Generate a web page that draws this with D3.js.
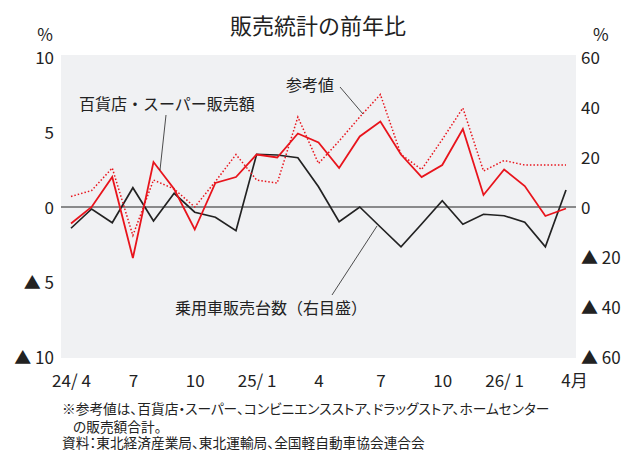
<!DOCTYPE html>
<html>
<head>
<meta charset="utf-8">
<script src="https://cdn.jsdelivr.net/npm/d3@7"></script>
<style>
  body { margin: 0; background: #fff; }
  text { font-family: "Noto Sans CJK JP", "Noto Sans", sans-serif; fill: #222; }
  .foot { font-feature-settings: "palt"; }
</style>
</head>
<body>
<div id="chart"></div>
<script>
// data: 2024/4 - 2026/4, monthly, YoY %
var months = ["24/4","24/5","24/6","24/7","24/8","24/9","24/10","24/11","24/12",
              "25/1","25/2","25/3","25/4","25/5","25/6","25/7","25/8","25/9","25/10","25/11","25/12",
              "26/1","26/2","26/3","26/4"];
var tickMonths = ["24/4","24/7","24/10","25/1","25/4","25/7","25/10","26/1","26/4"];
var tickText = ["24/ 4","7","10","25/ 1","4","7","10","26/ 1","4月"];
var dept = [-1.1, 0.0, 2.0, -3.4, 3.0, 1.2, -1.5, 1.6, 2.0, 3.5, 3.3, 4.9, 4.3,
            2.6, 4.7, 5.7, 3.5, 2.0, 2.8, 5.2, 0.8, 2.5, 1.4, -0.6, -0.1];
var ref = [0.7, 1.1, 2.6, -1.9, 1.8, 1.2, 0.0, 1.7, 3.5, 1.8, 1.6, 6.0, 2.9,
           4.4, 6.0, 7.5, 3.5, 2.5, 4.5, 6.6, 2.4, 3.1, 2.8, 2.8, 2.8];
var cars = [-8.5, -0.8, -6.3, 7.7, -5.6, 5.5, -2.1, -4.1, -9.5, 21.1, 20.8, 19.7, 8.1,
            -5.9, 0.0, -8.0, -15.9, -6.8, 2.5, -6.9, -2.9, -3.5, -6.1, -15.9, 6.8];
var leftTicks = [10, 5, 0, -5, -10];
var rightTicks = [60, 40, 20, 0, -20, -40, -60];

var w = 628, h = 450;
var red = "#e8141c";

var svg = d3.select("#chart").append("svg")
  .attr("width", w)
  .attr("height", h);

var x = d3.scalePoint().domain(months).range([71, 566]);
var yL = d3.scaleLinear().domain([-10, 10]).range([357, 57]);
var yR = d3.scaleLinear().domain([-60, 60]).range([357, 57]);

function fmt(v) { return v < 0 ? "▲ " + (-v) : "" + v; }

// plot background
svg.append("rect")
  .attr("x", 61).attr("y", 55)
  .attr("width", 515).attr("height", 303)
  .attr("fill", "#f0f1f3");

// title
svg.append("text")
  .attr("x", 318).attr("y", 34)
  .attr("text-anchor", "middle")
  .style("font-size", "22px")
  .text("販売統計の前年比");

svg.append("text").attr("x", 53).attr("y", 41)
  .attr("text-anchor", "end").style("font-size", "17px").text("%");
svg.append("text").attr("x", 593).attr("y", 41)
  .style("font-size", "17px").text("%");

// left axis
var gl = svg.append("g")
  .attr("transform", "translate(54,1)")
  .call(d3.axisLeft(yL).tickValues(leftTicks).tickSize(0).tickPadding(0).tickFormat(fmt));
gl.select(".domain").remove();
gl.selectAll("text").style("font-size", "17px").attr("fill", "#222");

// right axis
var gr = svg.append("g")
  .attr("transform", "translate(581,1)")
  .call(d3.axisRight(yR).tickValues(rightTicks).tickSize(0).tickPadding(0).tickFormat(fmt));
gr.select(".domain").remove();
gr.selectAll("text").style("font-size", "17px").attr("fill", "#222");

// x axis
var gx = svg.append("g")
  .attr("transform", "translate(0,375)")
  .call(d3.axisBottom(x).tickValues(tickMonths).tickSize(0).tickPadding(0)
    .tickFormat(function(d) { return tickText[tickMonths.indexOf(d)]; }));
gx.select(".domain").remove();
gx.selectAll("text").style("font-size", "17px").attr("fill", "#222");
gx.selectAll("text").filter(function(d) { return d == "26/4"; }).attr("dx", 8);

// zero line
svg.append("line")
  .attr("x1", 61).attr("x2", 576)
  .attr("y1", yL(0)).attr("y2", yL(0))
  .attr("stroke", "#222").attr("stroke-width", 1);

var lineL = d3.line()
  .x(function(d, i) { return x(months[i]); })
  .y(function(d) { return yL(d); });
var lineR = d3.line()
  .x(function(d, i) { return x(months[i]); })
  .y(function(d) { return yR(d); });

svg.append("path").datum(cars)
  .attr("d", lineR).attr("fill", "none")
  .attr("stroke", "#222").attr("stroke-width", 1.7);
svg.append("path").datum(ref)
  .attr("d", lineL).attr("fill", "none")
  .attr("stroke", red).attr("stroke-width", 1.5)
  .attr("stroke-dasharray", "1.5,2");
svg.append("path").datum(dept)
  .attr("d", lineL).attr("fill", "none")
  .attr("stroke", red).attr("stroke-width", 1.8);

// annotations
var notes = [
  {t: "百貨店・スーパー販売額", x: 79, y: 110, anchor: "start", l: [166, 115, 160, 170]},
  {t: "参考値", x: 334, y: 91, anchor: "end", l: [340, 87, 363, 114]},
  {t: "乗用車販売台数（右目盛）", x: 175, y: 314, anchor: "start", l: [377, 226, 332, 295]}
];
notes.forEach(function(n) {
  svg.append("text").attr("x", n.x).attr("y", n.y)
    .attr("text-anchor", n.anchor).style("font-size", "16px").text(n.t);
  svg.append("line")
    .attr("x1", n.l[0]).attr("y1", n.l[1]).attr("x2", n.l[2]).attr("y2", n.l[3])
    .attr("stroke", "#222").attr("stroke-width", 0.8);
});

// footnotes
var foot = [
  {t: "※参考値は、百貨店・スーパー、コンビニエンスストア、ドラッグストア、ホームセンター", x: 62, y: 413.5},
  {t: "の販売額合計。", x: 73, y: 431.5},
  {t: "資料：東北経済産業局、東北運輸局、全国軽自動車協会連合会", x: 62, y: 448}
];
foot.forEach(function(f) {
  svg.append("text").attr("class", "foot").attr("x", f.x).attr("y", f.y)
    .style("font-size", "13.7px").text(f.t);
});
</script>
</body>
</html>
